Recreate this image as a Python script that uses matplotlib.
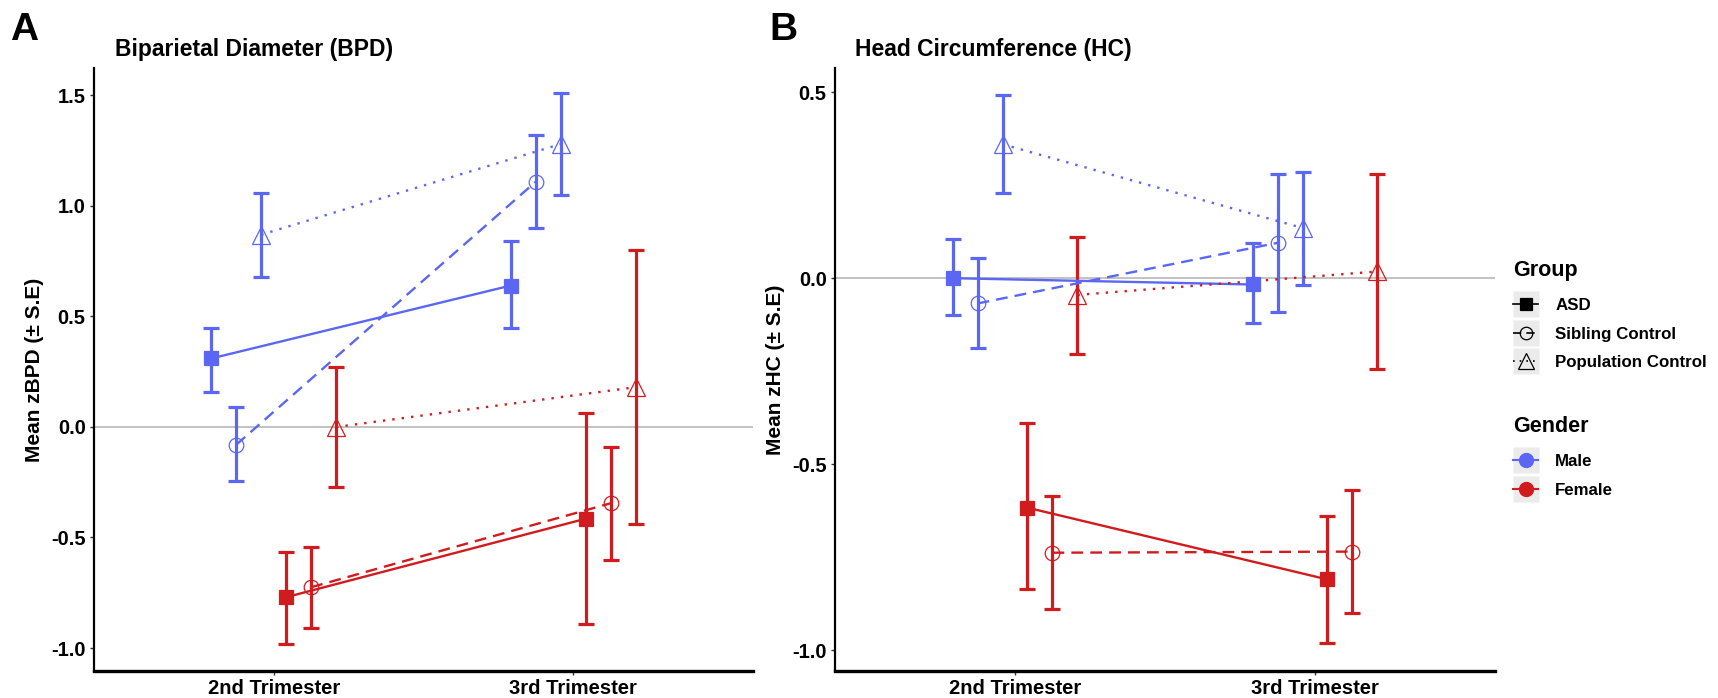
import numpy as np
import matplotlib.pyplot as plt
from matplotlib.lines import Line2D
from matplotlib.legend_handler import HandlerTuple

plt.rcParams['font.family'] = ['Liberation Sans', 'DejaVu Sans']
plt.rcParams['font.weight'] = 'bold'

# Data
trimesters = ["2nd Trimester", "3rd Trimester"]
groups = ["ASD", "Sibling Control", "Population Control"]
genders = ["Male", "Female"]

# Biparietal diameter: mean, lower, upper for each (gender, group), per trimester
bpd_mean = {
    ("Male", "ASD"): [0.31, 0.64],
    ("Male", "Sibling Control"): [-0.08, 1.11],
    ("Male", "Population Control"): [0.87, 1.28],
    ("Female", "ASD"): [-0.77, -0.415],
    ("Female", "Sibling Control"): [-0.725, -0.345],
    ("Female", "Population Control"): [0.0, 0.18],
}
bpd_low = {
    ("Male", "ASD"): [0.16, 0.45],
    ("Male", "Sibling Control"): [-0.245, 0.90],
    ("Male", "Population Control"): [0.68, 1.05],
    ("Female", "ASD"): [-0.98, -0.89],
    ("Female", "Sibling Control"): [-0.91, -0.60],
    ("Female", "Population Control"): [-0.27, -0.44],
}
bpd_high = {
    ("Male", "ASD"): [0.45, 0.84],
    ("Male", "Sibling Control"): [0.09, 1.32],
    ("Male", "Population Control"): [1.06, 1.51],
    ("Female", "ASD"): [-0.565, 0.063],
    ("Female", "Sibling Control"): [-0.545, -0.09],
    ("Female", "Population Control"): [0.27, 0.80],
}

# Head circumference
hc_mean = {
    ("Male", "ASD"): [0.0, -0.017],
    ("Male", "Sibling Control"): [-0.068, 0.095],
    ("Male", "Population Control"): [0.36, 0.135],
    ("Female", "ASD"): [-0.617, -0.81],
    ("Female", "Sibling Control"): [-0.738, -0.735],
    ("Female", "Population Control"): [-0.045, 0.018],
}
hc_low = {
    ("Male", "ASD"): [-0.10, -0.12],
    ("Male", "Sibling Control"): [-0.187, -0.09],
    ("Male", "Population Control"): [0.228, -0.018],
    ("Female", "ASD"): [-0.835, -0.98],
    ("Female", "Sibling Control"): [-0.89, -0.90],
    ("Female", "Population Control"): [-0.205, -0.245],
}
hc_high = {
    ("Male", "ASD"): [0.104, 0.095],
    ("Male", "Sibling Control"): [0.055, 0.28],
    ("Male", "Population Control"): [0.493, 0.285],
    ("Female", "ASD"): [-0.39, -0.64],
    ("Female", "Sibling Control"): [-0.585, -0.57],
    ("Female", "Population Control"): [0.11, 0.28],
}

# Styles
colors = {"Male": "#5B67F2", "Female": "#D01B1F"}
markers = {"ASD": "s", "Sibling Control": "o", "Population Control": "^"}
msizes = {"ASD": 10, "Sibling Control": 10.5, "Population Control": 13}
lstyles = {"ASD": "-", "Sibling Control": (0, (5, 3)), "Population Control": (0, (1, 3))}

fig = plt.figure(figsize=(17.18, 6.98), dpi=100)
W, H = 1718, 698


def px_axes(x0, x1, y0, y1):
    return fig.add_axes([x0 / W, 1 - y1 / H, (x1 - x0) / W, (y1 - y0) / H])


def draw_panel(ax, mean, low, high, ylim, yticks, ylabel):
    ax.axhline(0, color="#bdbdbd", lw=1.3, zorder=0)
    x = np.arange(1, len(trimesters) + 1)
    k = 0
    for g in genders:
        for grp in groups:
            off = (k - 2.5) * 0.0833
            k += 1
            m = np.array(mean[(g, grp)])
            lo = np.array(low[(g, grp)])
            hi = np.array(high[(g, grp)])
            xs = x + off
            c = colors[g]
            ax.errorbar(xs, m, yerr=[m - lo, hi - m], fmt="none", ecolor=c,
                        elinewidth=2.3, capsize=5.5, capthick=2.3, zorder=2)
            ax.plot(xs, m, color=c, lw=1.7, ls=lstyles[grp], zorder=3)
            filled = grp == "ASD"
            ax.plot(xs, m, ls="none", marker=markers[grp], ms=msizes[grp],
                    mfc=c if filled else "none", mec=c, mew=0.9, zorder=4)
    ax.set_xlim(0.4, 2.6)
    ax.set_ylim(*ylim)
    ax.set_xticks(x)
    ax.set_xticklabels(trimesters)
    ax.set_yticks(yticks)
    ax.set_yticklabels([f"{t:.1f}" for t in yticks])
    ax.set_ylabel(ylabel, fontsize=15, fontweight="bold", labelpad=5)
    for s in ["top", "right"]:
        ax.spines[s].set_visible(False)
    ax.spines["left"].set_linewidth(1.6)
    ax.spines["bottom"].set_linewidth(2.4)
    ax.tick_params(axis="both", length=3, width=1, color="#333333",
                   labelsize=14.5, pad=3)
    for lab in ax.get_xticklabels() + ax.get_yticklabels():
        lab.set_fontweight("bold")


ax1 = px_axes(94, 753, 68, 671)
draw_panel(ax1, bpd_mean, bpd_low, bpd_high, (-1.104, 1.624),
           [-1.0, -0.5, 0.0, 0.5, 1.0, 1.5], "Mean zBPD (\u00b1 S.E)")

ax2 = px_axes(835, 1495, 68, 671)
draw_panel(ax2, hc_mean, hc_low, hc_high, (-1.056, 0.565),
           [-1.0, -0.5, 0.0, 0.5], "Mean zHC (\u00b1 S.E)")

fig.text(10 / W, 1 - 40 / H, "A", fontsize=28, fontweight="bold", va="baseline")
fig.text(769 / W, 1 - 40 / H, "B", fontsize=28, fontweight="bold", va="baseline")
fig.text(115 / W, 1 - 56 / H, "Biparietal Diameter (BPD)", fontsize=16.5,
         fontweight="bold", va="baseline")
fig.text(855 / W, 1 - 56 / H, "Head Circumference (HC)", fontsize=16.5,
         fontweight="bold", va="baseline")

# Legends (titles drawn as text, keys with grey square backgrounds)
key_bg = "#ebebeb"


def key(line):
    bg = Line2D([], [], ls="none", marker="s", ms=18.5, mfc=key_bg, mec="none")
    return (bg, line)


group_handles = [
    key(Line2D([], [], color="black", marker=markers[grp], ls=lstyles[grp], lw=1.2,
               ms=9 if grp != "Population Control" else 11,
               mfc="black" if grp == "ASD" else "none", mec="black", mew=0.9))
    for grp in groups
]
gender_handles = [
    key(Line2D([], [], color=colors[g], marker="o", ls="-", lw=1.5, ms=10,
               mfc=colors[g], mec=colors[g]))
    for g in genders
]

leg_kw = dict(loc="upper left", frameon=False, handlelength=1.5,
              handletextpad=1.0, labelspacing=0.8, borderpad=0, borderaxespad=0,
              prop={"size": 12.2, "weight": "bold"},
              handler_map={tuple: HandlerTuple(ndivide=1)})

fig.text(1513 / W, 1 - 276 / H, "Group", fontsize=15.5, fontweight="bold", va="baseline")
fig.legend(group_handles, groups, bbox_to_anchor=(1513 / W, 1 - 298 / H), **leg_kw)

fig.text(1513 / W, 1 - 432 / H, "Gender", fontsize=15.5, fontweight="bold", va="baseline")
fig.legend(gender_handles, genders, bbox_to_anchor=(1513 / W, 1 - 454 / H), **leg_kw)

fig.savefig("out.png", dpi=100, facecolor="white")
